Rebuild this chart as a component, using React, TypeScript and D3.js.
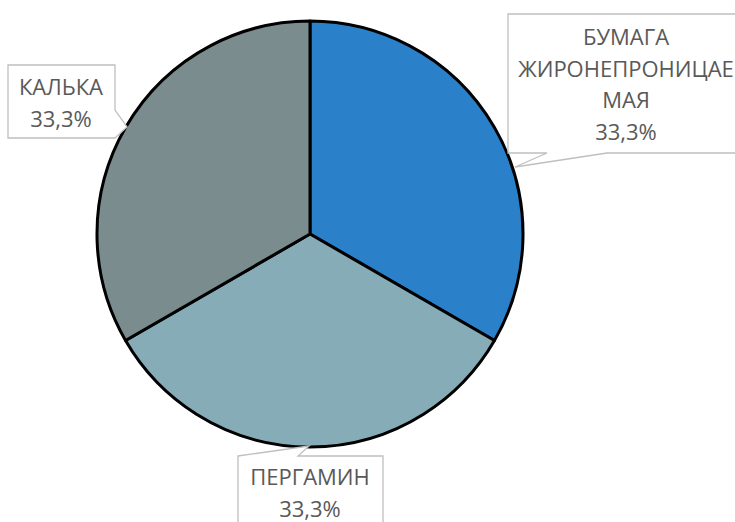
import React from "react";
import * as d3 from "d3";

const categories = ["БУМАГА ЖИРОНЕПРОНИЦАЕМАЯ", "ПЕРГАМИН", "КАЛЬКА"];
const values = [1, 1, 1];
const labelLines = [["БУМАГА", "ЖИРОНЕПРОНИЦАЕ", "МАЯ"], ["ПЕРГАМИН"], ["КАЛЬКА"]];
const colors = ["#2A81C9", "#86ADB7", "#7A8C8E"];

const W = 735, H = 522;
const cx = 310, cy = 234, R = 213;

const callouts = [
  { tx: 626, ty: 45, path: "M508,14 H748 V153 H607 L515,167 L547,153 H508 Z" },
  { tx: 310, ty: 485, path: "M238,456 L309,446 L298,456 H383 V540 H238 Z" },
  { tx: 61, ty: 95, path: "M8,65 H115 V110 L127,127 L115,138 H8 Z" },
];

export default function App() {
  const total = d3.sum(values);
  const pie = d3.pie<number>().sort(null).value((d) => d)(values);
  const arc = d3.arc<d3.PieArcDatum<number>>().innerRadius(0).outerRadius(R);
  const fmt = (v: number) => d3.format(".1f")((v / total) * 100).replace(".", ",") + "%";
  const lh = 31.5;
  return (
    <div style={{ position: "absolute", left: 0, top: 0 }}>
      <svg width={W} height={H} style={{ display: "block" }} fontFamily="'Open Sans', sans-serif">
        <rect width={W} height={H} fill="#fff" />
        <g transform={`translate(${cx},${cy})`}>
          {pie.map((p, i) => (
            <path key={i} d={arc(p) || ""} fill={colors[i]} stroke="#000" strokeWidth={3} strokeLinejoin="round" />
          ))}
        </g>
        {callouts.map((c, i) => {
          const lines = [...labelLines[i], fmt(values[i])];
          return (
            <g key={i}>
              <path d={c.path} fill="#fff" stroke="#BFBFBF" strokeWidth={1.3} />
              {lines.map((t, j) => (
                <text key={j} x={c.tx} y={c.ty + j * lh} textAnchor="middle" fontSize={22} fill="#595959">
                  {t}
                </text>
              ))}
            </g>
          );
        })}
      </svg>
    </div>
  );
}
